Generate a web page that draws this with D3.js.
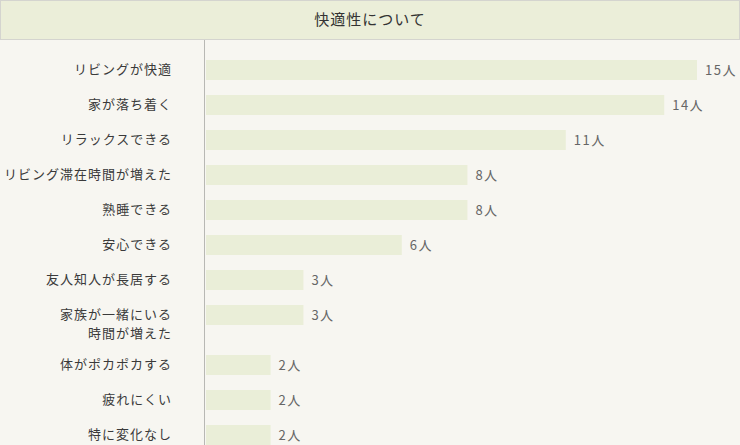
<!DOCTYPE html>
<html>
<head>
<meta charset="utf-8">
<script src="https://cdn.jsdelivr.net/npm/d3@7"></script>
<style>
  html, body { margin: 0; padding: 0; background: #f7f6f1; }
  svg { display: block; font-family: "Noto Sans CJK JP", "Noto Sans", sans-serif; }
</style>
</head>
<body>
<svg id="chart" width="740" height="445"></svg>
<script>
// Chart data
const title = "快適性について";
const categories = [
    "リビングが快適",
    "家が落ち着く",
    "リラックスできる",
    "リビング滞在時間が増えた",
    "熟睡できる",
    "安心できる",
    "友人知人が長居する",
    "家族が一緒にいる\n時間が増えた",
    "体がポカポカする",
    "疲れにくい",
    "特に変化なし"
];
const values = [15, 14, 11, 8, 8, 6, 3, 3, 2, 2, 2];
const unit = "人";

const width = 740;
const height = 445;
const margin = { top: 60, left: 205 };

const svg = d3.select("#chart");

// Header box
svg.append("rect")
    .attr("x", 0.5)
    .attr("y", 0.5)
    .attr("width", width - 1)
    .attr("height", 39)
    .attr("fill", "#ebeed9")
    .attr("stroke", "#d4d4cf");

svg.append("text")
    .attr("x", width / 2)
    .attr("y", 20)
    .attr("dy", "0.35em")
    .attr("text-anchor", "middle")
    .attr("fill", "#333")
    .style("font-size", "15px")
    .style("letter-spacing", "1px")
    .text(title);

// Scales
const xScale = d3.scaleLinear()
    .domain([0, 15])
    .range([margin.left, margin.left + 492]);

// rows get taller when the label wraps onto a second line
const lines = categories.map((c) => c.split("\n"));
const rowHeights = lines.map((l) => 35 + 15 * (l.length - 1));
const offsets = [0, ...d3.cumsum(rowHeights)].slice(0, categories.length)
    .map((o) => margin.top + o);
const yScale = d3.scaleOrdinal().domain(categories).range(offsets);
const barHeight = 20;

// Axis line
svg.append("line")
    .attr("x1", xScale(0) - 0.5)
    .attr("x2", xScale(0) - 0.5)
    .attr("y1", 40)
    .attr("y2", height)
    .attr("stroke", "#b8b8b4")
    .attr("stroke-width", 1);

const rows = svg.selectAll("g.row")
    .data(categories)
    .enter()
    .append("g")
    .attr("class", "row")
    .attr("transform", (d) => `translate(0,${yScale(d)})`);

// Bars
rows.append("rect")
    .attr("x", xScale(0) + 1)
    .attr("y", 0)
    .attr("width", (d, i) => xScale(values[i]) - xScale(0) - 1)
    .attr("height", barHeight)
    .attr("fill", "#eaeed8");

// Category labels
rows.append("text")
    .attr("x", 172)
    .attr("text-anchor", "end")
    .attr("fill", "#3a3a3a")
    .style("font-size", "13px")
    .style("letter-spacing", "1px")
    .selectAll("tspan")
    .data((d) => d.split("\n"))
    .enter()
    .append("tspan")
    .attr("x", 172)
    .attr("y", (d, i) => barHeight / 2 + i * 19)
    .attr("dy", "0.33em")
    .text((d) => d);

// Value labels
rows.append("text")
    .attr("x", (d, i) => xScale(values[i]) + 8)
    .attr("y", barHeight / 2)
    .attr("dy", "0.35em")
    .attr("fill", "#666")
    .style("font-size", "13px")
    .style("letter-spacing", "1.5px")
    .text((d, i) => values[i] + unit);
</script>
</body>
</html>
